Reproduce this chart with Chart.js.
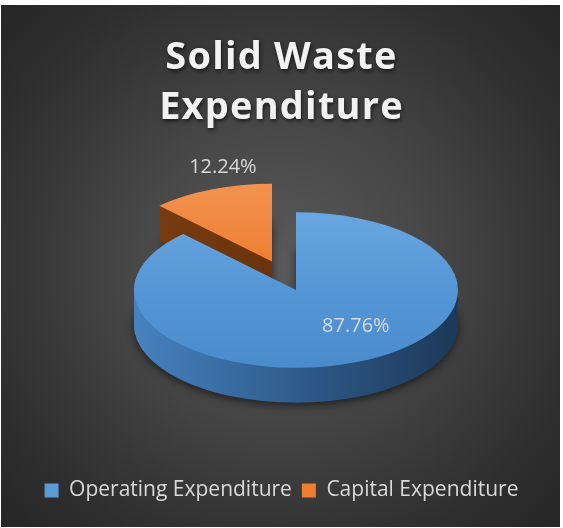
<!DOCTYPE html>
<html>
<head>
<meta charset="utf-8">
<script src="https://cdn.jsdelivr.net/npm/chart.js@4/dist/chart.umd.min.js"></script>
<style>
html,body{margin:0;padding:0;background:#ffffff;}
#wrap{position:relative;width:563px;height:528px;overflow:hidden;}
#bg{position:absolute;left:1px;top:5px;width:559px;height:522px;
  background:radial-gradient(ellipse 70% 72% at 50% 50%, #5a5a5a 0%, #464646 40%, #2e2e2e 80%, #262626 100%);}
canvas{position:absolute;left:0;top:0;}
</style>
</head>
<body>
<div id="wrap"><div id="bg"></div><canvas id="c" width="563" height="528"></canvas></div>
<script>
// ---- data ----
const categories = ['Operating Expenditure', 'Capital Expenditure'];
const shares = [87.76, 12.24];
const valueLabels = ['87.76%', '12.24%'];
const titleLines = ['Solid Waste', 'Expenditure'];

// ---- styles ----
const legendColors = ['#5b9bd5', '#ed7d31'];
const topStops = [['#6aa7e0', '#5596d6', '#4a8bcc'], ['#f29250', '#ee7f32', '#e8721f']];
const sideStops = [['#4782c0', '#2f5c8c', '#1d3858'], ['#7e3e12', '#6a330d', '#55290a']];

const pie3d = {
  id: 'pie3d',
  afterLayout(chart) {
    const t = chart.titleBlock;
    if (t && !t._shadowWrapped) {
      const d = t.draw.bind(t);
      t.draw = function (area) {
        const c = chart.ctx;
        c.save();
        c.shadowColor = 'rgba(0,0,0,0.65)';
        c.shadowBlur = 4;
        c.shadowOffsetX = 1;
        c.shadowOffsetY = 2;
        c.letterSpacing = '1.2px';
        d(area);
        c.letterSpacing = '0px';
        c.restore();
      };
      t._shadowWrapped = true;
    }
  },
  beforeDatasetsDraw(chart, args, o) {
    const ctx = chart.ctx;
    const arcs = chart.getDatasetMeta(0).data;
    const k = o.tilt, depth = o.depth;
    const geo = arcs.map((arc, i) => {
      const p = arc.getProps(['x', 'y', 'startAngle', 'endAngle', 'outerRadius'], true);
      const mid = (p.startAngle + p.endAngle) / 2;
      const e = o.explode[i] || 0;
      const X = o.cx + e * Math.cos(mid);
      const Y = o.cy + e * Math.sin(mid) * k;
      return {i, arc, p, mid, X, Y};
    });
    const order = geo.slice().sort((a, b) => Math.sin(a.mid) - Math.sin(b.mid));
    ctx.save();
    order.forEach(g => {
      const R = g.p.outerRadius;
      ctx.setTransform(1, 0, 0, 1, 0, 0);
      const gr = ctx.createLinearGradient(g.X - R, 0, g.X + R, 0);
      const st = o.sideColors[g.i];
      st.forEach((c, j) => gr.addColorStop(j / (st.length - 1), c));
      for (let s = depth; s >= 1; s--) {
        ctx.save();
        if (s === depth) {
          ctx.shadowColor = 'rgba(0,0,0,0.55)';
          ctx.shadowBlur = 8;
          ctx.shadowOffsetY = 3;
        }
        ctx.beginPath();
        ctx.moveTo(g.X, g.Y + s);
        ctx.ellipse(g.X, g.Y + s, R, R * k, 0, g.p.startAngle, g.p.endAngle);
        ctx.closePath();
        ctx.fillStyle = gr;
        ctx.fill();
        ctx.restore();
      }
      ctx.setTransform(1, 0, 0, k, g.X - g.p.x, g.Y - g.p.y * k);
      g.arc.draw(ctx);
    });
    ctx.setTransform(1, 0, 0, 1, 0, 0);
    ctx.font = o.labelFont;
    ctx.fillStyle = o.labelColor;
    ctx.textAlign = 'center';
    ctx.textBaseline = 'middle';
    geo.forEach(g => {
      const L = o.labelPos[g.i];
      const ang = g.mid + L.dAng * Math.PI / 180;
      const r = g.p.outerRadius * L.r;
      ctx.fillText(valueLabels[g.i], g.X + r * Math.cos(ang), g.Y + r * Math.sin(ang) * k);
    });
    ctx.restore();
    return false;
  }
};

const RADIUS = 162;

new Chart(document.getElementById('c'), {
  type: 'pie',
  data: {
    labels: categories,
    datasets: [{
      data: shares,
      borderWidth: 0,
      offset: 0,
      clip: false,
      backgroundColor: (c) => {
        const ch = c.chart, a = ch.chartArea;
        const idx = c.dataIndex || 0;
        if (!a) return legendColors[idx];
        const my = (a.top + a.bottom) / 2;
        const g = ch.ctx.createLinearGradient(0, my - RADIUS, 0, my + RADIUS);
        const st = topStops[idx];
        st.forEach((col, j) => g.addColorStop(j / (st.length - 1), col));
        return g;
      }
    }]
  },
  options: {
    responsive: false,
    devicePixelRatio: 1,
    animation: false,
    radius: RADIUS,
    layout: {padding: {top: 0, bottom: 17, left: 0, right: 0}},
    events: [],
    plugins: {
      tooltip: {enabled: false},
      title: {
        display: true,
        text: titleLines,
        color: '#f2f2f2',
        font: {family: 'Open Sans', size: 38, weight: 'bold', lineHeight: 1.316},
        padding: {top: 33, bottom: 0}
      },
      legend: {
        display: true,
        position: 'bottom',
        labels: {
          color: '#d9d9d9',
          font: {family: 'Open Sans', size: 21},
          boxWidth: 14,
          boxHeight: 14,
          padding: 10,
          generateLabels: (chart) => categories.map((t, i) => ({
            text: t, fillStyle: legendColors[i], strokeStyle: legendColors[i],
            lineWidth: 0, hidden: false, index: i, fontColor: '#d9d9d9'
          }))
        }
      },
      pie3d: {
        cx: 296, cy: 290, tilt: 0.48, depth: 35,
        explode: [0, 64],
        sideColors: sideStops,
        labelFont: '20px "Open Sans"',
        labelColor: '#d9d9d9',
        labelPos: [{r: 0.6, dAng: -16}, {r: 1.25, dAng: 8}]
      }
    }
  },
  plugins: [pie3d]
});
</script>
</body>
</html>
